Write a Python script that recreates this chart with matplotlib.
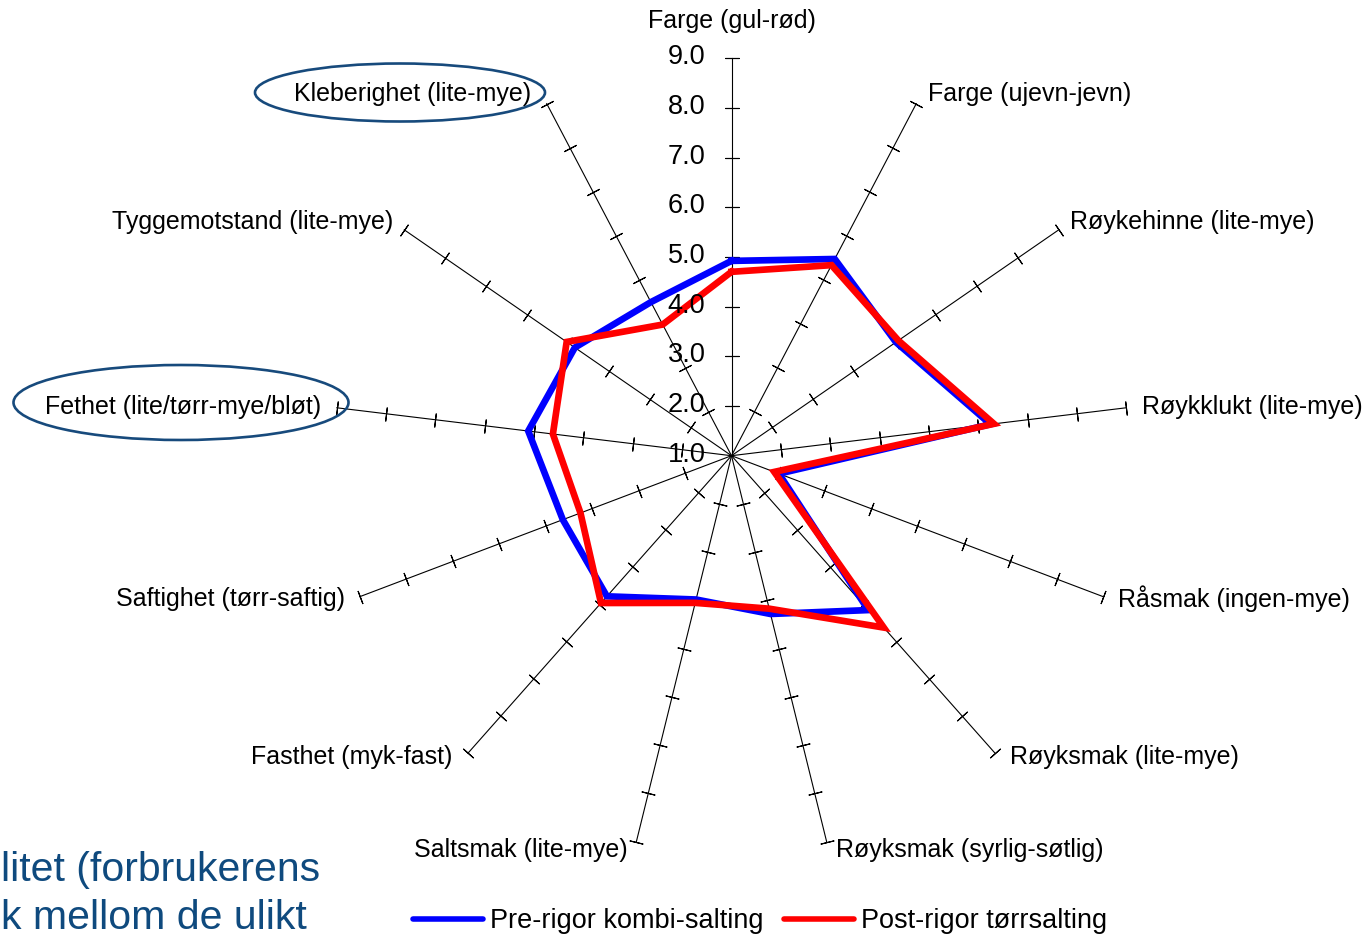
import numpy as np
import matplotlib
matplotlib.use('Agg')
import matplotlib.pyplot as plt
from matplotlib.patches import Ellipse
from matplotlib.lines import Line2D

plt.rcParams['font.family'] = ['Liberation Sans', 'DejaVu Sans']

# data
labels = ['Farge (gul-rød)', 'Farge (ujevn-jevn)', 'Røykehinne (lite-mye)',
          'Røykklukt (lite-mye)', 'Råsmak (ingen-mye)', 'Røyksmak (lite-mye)',
          'Røyksmak (syrlig-søtlig)', 'Saltsmak (lite-mye)', 'Fasthet (myk-fast)',
          'Saftighet (tørr-saftig)', 'Fethet (lite/tørr-mye/bløt)',
          'Tyggemotstand (lite-mye)', 'Kleberighet (lite-mye)']
pre_rigor = [4.92, 5.47, 5.02, 6.25, 2.02, 5.15, 4.28, 3.98, 4.78, 4.63, 5.12, 4.83, 4.49]
post_rigor = [4.70, 5.33, 5.08, 6.32, 1.92, 5.62, 4.17, 4.05, 4.96, 4.25, 4.62, 5.03, 3.98]
series_names = ['Pre-rigor kombi-salting', 'Post-rigor tørrsalting']
r_ticks = [1, 2, 3, 4, 5, 6, 7, 8, 9]

# label offsets (pixels) and alignment per spoke
lab_off = [(0, 37), (12, 10), (11, 8), (16, 1), (15, -2), (15, -4), (9, -8),
           (-9, -8), (-15, -4), (-15, -2), (-16, 1), (-11, 8), (-16, 10)]

W, H = 1362, 938
fig = plt.figure(figsize=(W / 100, H / 100), dpi=100)
cx, cy, R = 731.5, 455.7, 397.6
ax = fig.add_axes([(cx - R) / W, (H - cy - R) / H, 2 * R / W, 2 * R / H], projection='polar')
ax.set_theta_offset(np.pi / 2)
ax.set_theta_direction(-1)
ax.set_ylim(1, 9)
ax.grid(False)
ax.set_xticks([])
ax.set_yticks([])
ax.spines['polar'].set_visible(False)
ax.patch.set_visible(False)

n = len(labels)
theta = 2 * np.pi * np.arange(n) / n

# spokes with cross ticks
for k, th in enumerate(theta):
    ang = 90 - np.degrees(th)
    ax.plot([th, th], [1, 9], color='black', lw=0.8, clip_on=False)
    ax.plot([th] * 8, r_ticks[1:], ls='none', marker=(2, 2, ang), markersize=10,
            markeredgewidth=0.8, color='black', clip_on=False)
    dx, dy = lab_off[k]
    ha = 'center' if dx == 0 else ('left' if dx > 0 else 'right')
    ax.annotate(labels[k], (th, 9), xytext=(dx, dy), textcoords='offset pixels',
                ha=ha, va='center', fontsize=18, annotation_clip=False)

# value labels on first spoke
for v in r_ticks:
    ax.annotate(f'{v:.1f}', (0, v), xytext=(-26, 1), textcoords='offset pixels',
                ha='right', va='center', fontsize=19.5, annotation_clip=False)

th_c = np.append(theta, theta[0])
ax.plot(th_c, pre_rigor + pre_rigor[:1], color='#0000ff', lw=4.8,
        solid_joinstyle='miter', clip_on=False)
ax.plot(th_c, post_rigor + post_rigor[:1], color='#ff0000', lw=4.8,
        solid_joinstyle='miter', clip_on=False)

handles = [Line2D([], [], color='#0000ff', lw=4, solid_capstyle='round'),
           Line2D([], [], color='#ff0000', lw=4, solid_capstyle='round')]
fig.legend(handles, series_names, loc='center', bbox_to_anchor=(760 / W, 1 - 921 / H),
           ncol=2, frameon=False, fontsize=19.5, handlelength=2.6, handletextpad=0.25,
           columnspacing=0.75, borderpad=0, borderaxespad=0)

# highlighted labels
for (ex, ey, ew, eh) in [(400, 92.5, 290, 58), (181, 402.5, 335, 75)]:
    fig.patches.append(Ellipse((ex / W, 1 - ey / H), ew / W, eh / H, transform=fig.transFigure,
                               fill=False, edgecolor='#174a7c', lw=1.9))

# slide text cut at the left edge
fig.text(1 / W, 1 - 870 / H, 'litet (forbrukerens', color='#0f4a7e', fontsize=29.5,
         ha='left', va='center')
fig.text(1 / W, 1 - 918 / H, 'k mellom de ulikt', color='#0f4a7e', fontsize=29.5,
         ha='left', va='center')

fig.savefig('out.png', dpi=100)
